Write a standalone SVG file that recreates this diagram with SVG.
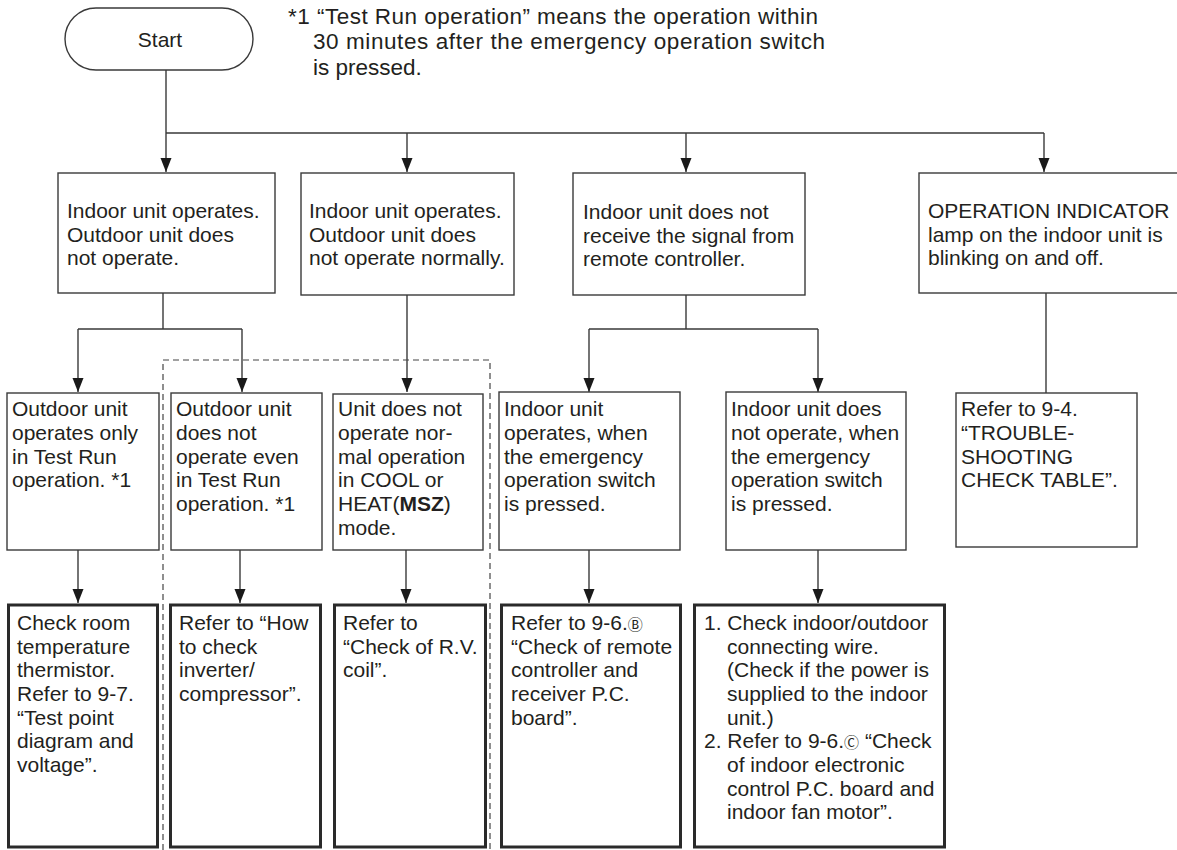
<svg xmlns="http://www.w3.org/2000/svg" width="1177" height="850" viewBox="0 0 1177 850">
<defs>
<style>
text{font-family:"Liberation Sans",Arial,Helvetica,sans-serif;font-size:21px;fill:#231f20}
.box{fill:#fff;stroke:#3a3a3a;stroke-width:1.4}
.tbox{fill:#fff;stroke:#2a2a2a;stroke-width:3}
.ln{fill:none;stroke:#3a3a3a;stroke-width:1.4}
.dash{fill:none;stroke:#444;stroke-width:1.2;stroke-dasharray:6 4}
.circ{font-family:"DejaVu Sans","Noto Sans CJK JP",sans-serif;font-size:15px}
.note{font-size:22.5px}
</style>
<marker id="ah" markerUnits="userSpaceOnUse" markerWidth="15" markerHeight="12" refX="14" refY="5.5" orient="auto">
<path d="M0,0 L14,5.5 L0,11 z" fill="#1a1a1a"/>
</marker>
</defs>
<rect width="1177" height="850" fill="#fff"/>

<g id="note">
<text class="note" x="288" y="24" textLength="530" lengthAdjust="spacing">*1 “Test Run operation” means the operation within</text>
<text class="note" x="313" y="49.4" textLength="512" lengthAdjust="spacing">30 minutes after the emergency operation switch</text>
<text class="note" x="313" y="74.8">is pressed.</text>
</g>

<g id="connectors">
<path class="ln" d="M166,70 V133 M166,133 H1044"/>
<path class="ln" d="M166,133 V172" marker-end="url(#ah)"/>
<path class="ln" d="M407,133 V172" marker-end="url(#ah)"/>
<path class="ln" d="M686,133 V172" marker-end="url(#ah)"/>
<path class="ln" d="M1044,133 V172" marker-end="url(#ah)"/>
<path class="ln" d="M163,293 V329 M78,329 H242"/>
<path class="ln" d="M78,329 V392" marker-end="url(#ah)"/>
<path class="ln" d="M242,329 V392" marker-end="url(#ah)"/>
<path class="ln" d="M407,295 V392" marker-end="url(#ah)"/>
<path class="ln" d="M686,295 V329 M589,329 H818"/>
<path class="ln" d="M589,329 V392" marker-end="url(#ah)"/>
<path class="ln" d="M818,329 V392" marker-end="url(#ah)"/>
<path class="ln" d="M1046,293 V393"/>
<path class="ln" d="M78,550 V603" marker-end="url(#ah)"/>
<path class="ln" d="M240,550 V603" marker-end="url(#ah)"/>
<path class="ln" d="M406,550 V603" marker-end="url(#ah)"/>
<path class="ln" d="M589,550 V603" marker-end="url(#ah)"/>
<path class="ln" d="M818,550 V603" marker-end="url(#ah)"/>
<path class="dash" d="M163,850 V360 H490 V850"/>
</g>

<g id="start">
<rect class="box" x="65" y="8" width="188" height="62" rx="31" ry="31"/>
<text x="160" y="47" font-size="22" text-anchor="middle">Start</text>
</g>

<g id="a1">
<rect class="box" x="58" y="173" width="217" height="120"/>
<text x="67" y="218">Indoor unit operates.</text>
<text x="67" y="242">Outdoor unit does</text>
<text x="67" y="265">not operate.</text>
</g>
<g id="a2">
<rect class="box" x="301" y="173" width="213" height="122"/>
<text x="309" y="218">Indoor unit operates.</text>
<text x="309" y="242">Outdoor unit does</text>
<text x="309" y="265">not operate normally.</text>
</g>
<g id="a3">
<rect class="box" x="573" y="173" width="232" height="122"/>
<text x="583" y="219">Indoor unit does not</text>
<text x="583" y="243">receive the signal from</text>
<text x="583" y="266">remote controller.</text>
</g>
<g id="a4">
<rect class="box" x="919" y="173" width="270" height="120"/>
<text x="928" y="218">OPERATION INDICATOR</text>
<text x="928" y="242">lamp on the indoor unit is</text>
<text x="928" y="265">blinking on and off.</text>
</g>

<g id="b1">
<rect class="box" x="7" y="393" width="152" height="157"/>
<text x="12" y="416">Outdoor unit</text>
<text x="12" y="440">operates only</text>
<text x="12" y="464">in Test Run</text>
<text x="12" y="487">operation. *1</text>
</g>
<g id="b2">
<rect class="box" x="171" y="393" width="151" height="157"/>
<text x="176" y="416">Outdoor unit</text>
<text x="176" y="440">does not</text>
<text x="176" y="464">operate even</text>
<text x="176" y="487">in Test Run</text>
<text x="176" y="511">operation. *1</text>
</g>
<g id="b3">
<rect class="box" x="333" y="394" width="150" height="156"/>
<text x="338" y="416">Unit does not</text>
<text x="338" y="440">operate nor-</text>
<text x="338" y="464">mal operation</text>
<text x="338" y="487">in COOL or</text>
<text x="338" y="511">HEAT(<tspan font-weight="bold">MSZ</tspan>)</text>
<text x="338" y="535">mode.</text>
</g>
<g id="b4">
<rect class="box" x="499" y="392" width="181" height="158"/>
<text x="504" y="416">Indoor unit</text>
<text x="504" y="440">operates, when</text>
<text x="504" y="464">the emergency</text>
<text x="504" y="487">operation switch</text>
<text x="504" y="511">is pressed.</text>
</g>
<g id="b5">
<rect class="box" x="726" y="392" width="180" height="158"/>
<text x="731" y="416">Indoor unit does</text>
<text x="731" y="440">not operate, when</text>
<text x="731" y="464">the emergency</text>
<text x="731" y="487">operation switch</text>
<text x="731" y="511">is pressed.</text>
</g>
<g id="b6">
<rect class="box" x="956" y="393" width="181" height="154"/>
<text x="961" y="416">Refer to 9-4.</text>
<text x="961" y="440">“TROUBLE-</text>
<text x="961" y="464">SHOOTING</text>
<text x="961" y="487">CHECK TABLE”.</text>
</g>

<g id="c1">
<rect class="tbox" x="8.5" y="605" width="149" height="242"/>
<text x="17" y="630">Check room</text>
<text x="17" y="654">temperature</text>
<text x="17" y="677">thermistor.</text>
<text x="17" y="701">Refer to 9-7.</text>
<text x="17" y="725">“Test point</text>
<text x="17" y="748">diagram and</text>
<text x="17" y="772">voltage”.</text>
</g>
<g id="c2">
<rect class="tbox" x="170.5" y="605" width="150" height="242"/>
<text x="179" y="630">Refer to “How</text>
<text x="179" y="654">to check</text>
<text x="179" y="677">inverter/</text>
<text x="179" y="701">compressor”.</text>
</g>
<g id="c3">
<rect class="tbox" x="334.5" y="605" width="151" height="242"/>
<text x="343" y="630">Refer to</text>
<text x="343" y="654">“Check of R.V.</text>
<text x="343" y="677">coil”.</text>
</g>
<g id="c4">
<rect class="tbox" x="501.5" y="605" width="179" height="242"/>
<text x="511" y="630">Refer to 9-6.<tspan class="circ">Ⓑ</tspan></text>
<text x="511" y="654">“Check of remote</text>
<text x="511" y="677">controller and</text>
<text x="511" y="701">receiver P.C.</text>
<text x="511" y="725">board”.</text>
</g>
<g id="c5">
<rect class="tbox" x="694.5" y="605" width="250" height="242"/>
<text x="704" y="630">1. Check indoor/outdoor</text>
<text x="727" y="654">connecting wire.</text>
<text x="727" y="677">(Check if the power is</text>
<text x="727" y="701">supplied to the indoor</text>
<text x="727" y="725">unit.)</text>
<text x="704" y="748">2. Refer to 9-6.<tspan class="circ">Ⓒ</tspan> “Check</text>
<text x="727" y="772">of indoor electronic</text>
<text x="727" y="796">control P.C. board and</text>
<text x="727" y="819">indoor fan motor”.</text>
</g>
</svg>
